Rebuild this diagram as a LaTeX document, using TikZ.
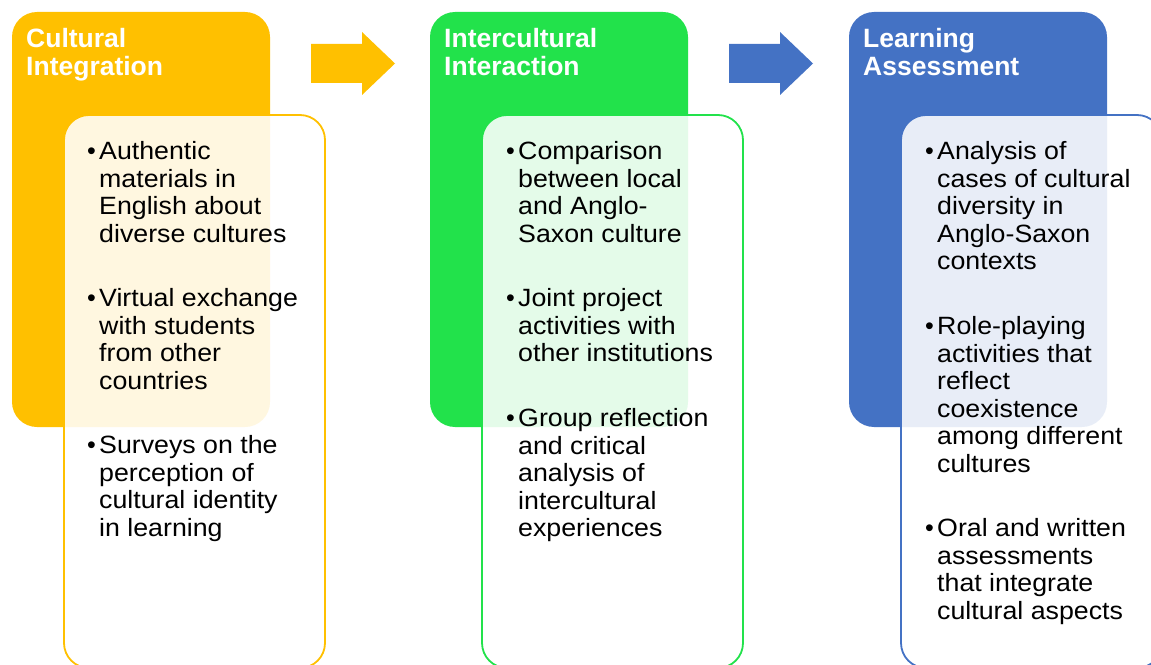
\documentclass[tikz,border=0pt]{standalone}
\usepackage{fontspec}
\setmainfont{Liberation Sans}
\newfontfamily\bodyfont[FakeStretch=1.07]{Liberation Sans}
\definecolor{cyel}{HTML}{FFC000}
\definecolor{cgrn}{HTML}{22E24B}
\definecolor{cblu}{HTML}{4472C4}
\begin{document}
\begin{tikzpicture}[x=1bp,y=-1bp,
  headbox/.style={rounded corners=25bp},
  innerbox/.style={rounded corners=25bp, line width=1.8bp, fill=white, fill opacity=0.88},
  headtxt/.style={anchor=base west, inner sep=0pt, align=left, text=white,
     font=\fontsize{26.5bp}{28bp}\selectfont\bfseries},
  bodytxt/.style={anchor=base west, inner sep=0pt, align=left, text=black,
     font=\bodyfont\fontsize{25bp}{27.6bp}\selectfont},
  bul/.style={anchor=base west, inner sep=0pt, text=black, font=\fontsize{25bp}{27.6bp}\selectfont}
]
\useasboundingbox (0,0) rectangle (1151,665);
% header boxes
\fill[cyel, headbox] (12,12) rectangle (270,427);
\fill[cgrn, headbox] (430,12) rectangle (688,427);
\fill[cblu, headbox] (849,12) rectangle (1107,427);
% inner boxes
\filldraw[draw=cyel, innerbox] (64,115) rectangle (325,668);
\filldraw[draw=cgrn, innerbox] (482,115) rectangle (743,668);
\filldraw[draw=cblu, innerbox] (901,115) rectangle (1162,668);
% arrows
\fill[cyel] (311,44) -- (362,44) -- (362,32) -- (395,63.5) -- (362,95) -- (362,83) -- (311,83) -- cycle;
\fill[cblu] (729,44) -- (780,44) -- (780,32) -- (813,63.5) -- (780,95) -- (780,83) -- (729,83) -- cycle;
% headers (base = last line baseline)
\node[headtxt] (h1) at (26,76) {Cultural\\Integration};
\node[headtxt] (h2) at (444,76) {Intercultural\\Interaction};
\node[headtxt] (h3) at (863,76) {Learning\\Assessment};
% column 1
\node[bul] (b11) at (87,159.5) {•};
\node[bodytxt] (t11) at (99,242.3) {Authentic\\materials in\\English about\\diverse cultures};
\node[bul] (b12) at (87,306.5) {•};
\node[bodytxt] (t12) at (99,389.3) {Virtual exchange\\with students\\from other\\countries};
\node[bul] (b13) at (87,453.5) {•};
\node[bodytxt] (t13) at (99,536.3) {Surveys on the\\perception of\\cultural identity\\in learning};
% column 2
\node[bul] (b21) at (506,159.5) {•};
\node[bodytxt] (t21) at (518,242.3) {Comparison\\between local\\and Anglo-\\Saxon culture};
\node[bul] (b22) at (506,306.5) {•};
\node[bodytxt] (t22) at (518,361.7) {Joint project\\activities with\\other institutions};
\node[bul] (b23) at (506,426.5) {•};
\node[bodytxt] (t23) at (518,536.9) {Group reflection\\and critical\\analysis of\\intercultural\\experiences};
% column 3
\node[bul] (b31) at (925,159.5) {•};
\node[bodytxt] (t31) at (937,269.9) {Analysis of\\cases of cultural\\diversity in\\Anglo-Saxon\\contexts};
\node[bul] (b32) at (925,334.5) {•};
\node[bodytxt] (t32) at (937,472.5) {Role-playing\\activities that\\reflect\\coexistence\\among different\\cultures};
\node[bul] (b33) at (925,536.5) {•};
\node[bodytxt] (t33) at (937,619.3) {Oral and written\\assessments\\that integrate\\cultural aspects};
\end{tikzpicture}
\end{document}
